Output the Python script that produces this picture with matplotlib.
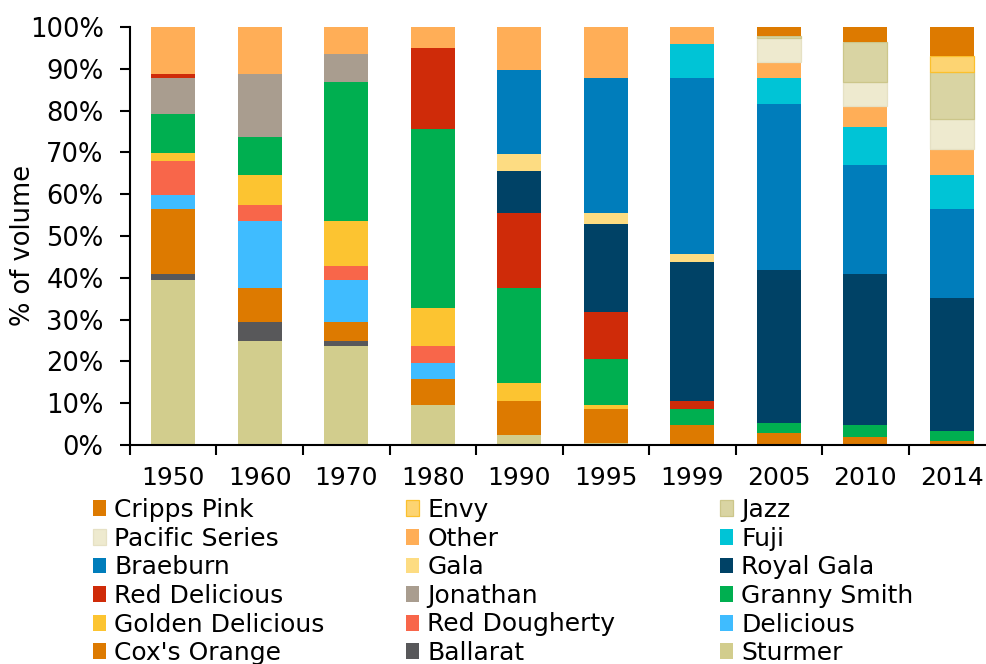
import matplotlib
matplotlib.use("Agg")
import matplotlib.pyplot as plt
from matplotlib.patches import Patch
import numpy as np

years = ["1950", "1960", "1970", "1980", "1990", "1995", "1999", "2005", "2010", "2014"]

# % of volume per variety, stacked bottom -> top
sturmer = [39.5, 24.8, 23.8, 9.6, 2.4, 0.5, 0, 0, 0, 0]
ballarat = [1.4, 4.7, 1.0, 0, 0, 0, 0, 0, 0, 0]
coxs_orange = [15.6, 8.1, 4.7, 6.2, 8.1, 8.1, 4.9, 2.9, 2.0, 1.0]
delicious = [3.3, 16.0, 9.9, 3.8, 0, 0, 0, 0, 0, 0]
red_dougherty = [8.1, 3.8, 3.4, 4.2, 0, 0, 0, 0, 0, 0]
golden_delicious = [1.9, 7.1, 10.8, 9.0, 4.3, 1.0, 0, 0, 0, 0]
granny_smith = [9.3, 9.1, 33.3, 42.7, 22.8, 10.9, 3.7, 2.4, 2.9, 2.4]
jonathan = [8.7, 15.2, 6.7, 0, 0, 0, 0, 0, 0, 0]
red_delicious = [1.0, 0, 0, 19.4, 18.0, 11.4, 1.9, 0, 0, 0]
royal_gala = [0, 0, 0, 0, 9.9, 20.9, 33.2, 36.5, 36.0, 31.8]
gala = [0, 0, 0, 0, 4.2, 2.8, 2.0, 0, 0, 0]
braeburn = [0, 0, 0, 0, 19.9, 32.2, 42.1, 39.8, 26.0, 21.3]
fuji = [0, 0, 0, 0, 0, 0, 8.1, 6.2, 9.1, 8.0]
other = [11.2, 11.2, 6.4, 5.1, 10.4, 12.2, 4.1, 3.8, 5.1, 6.2]
pacific_series = [0, 0, 0, 0, 0, 0, 0, 5.7, 5.8, 7.2]
jazz = [0, 0, 0, 0, 0, 0, 0, 0.5, 9.4, 11.4]
envy = [0, 0, 0, 0, 0, 0, 0, 0, 0, 3.7]
cripps_pink = [0, 0, 0, 0, 0, 0, 0, 2.2, 3.7, 7.0]

# (name, values, fill, edge)
series = [
    ("Sturmer", sturmer, "#D2CD8D", None),
    ("Ballarat", ballarat, "#58585A", None),
    ("Cox's Orange", coxs_orange, "#DD7A00", None),
    ("Delicious", delicious, "#3FBCFF", None),
    ("Red Dougherty", red_dougherty, "#F8664A", None),
    ("Golden Delicious", golden_delicious, "#FCC431", None),
    ("Granny Smith", granny_smith, "#00AF50", None),
    ("Jonathan", jonathan, "#A99D8F", None),
    ("Red Delicious", red_delicious, "#CF2B09", None),
    ("Royal Gala", royal_gala, "#004266", None),
    ("Gala", gala, "#FDDC82", None),
    ("Braeburn", braeburn, "#007DBB", None),
    ("Fuji", fuji, "#00C4D6", None),
    ("Other", other, "#FFAE57", None),
    ("Pacific Series", pacific_series, "#EEEACF", "#E6E1C4"),
    ("Jazz", jazz, "#D9D4A3", "#CCC68A"),
    ("Envy", envy, "#FDD472", "#FBC02D"),
    ("Cripps Pink", cripps_pink, "#DD7A00", None),
]

legend_order = [
    "Cripps Pink", "Envy", "Jazz",
    "Pacific Series", "Other", "Fuji",
    "Braeburn", "Gala", "Royal Gala",
    "Red Delicious", "Jonathan", "Granny Smith",
    "Golden Delicious", "Red Dougherty", "Delicious",
    "Cox's Orange", "Ballarat", "Sturmer",
]

plt.rcParams["font.family"] = "DejaVu Sans"
fs = 18

fig = plt.figure(figsize=(9.87, 6.64), dpi=100)
ax = fig.add_axes([130 / 987, 1 - 445 / 664, 865 / 987, 418 / 664])

x = np.arange(len(years))
bottom = np.zeros(len(years))
handles = {}
for name, vals, color, edge in series:
    vals = np.array(vals, dtype=float)
    lw = [0.9 if (edge and v > 0) else 0 for v in vals]
    ax.bar(x, vals, width=0.51, bottom=bottom, color=color,
           edgecolor=edge if edge else color, linewidth=lw)
    bottom += vals
    handles[name] = Patch(facecolor=color, edgecolor=edge if edge else color,
                          linewidth=0.9 if edge else 0)

ax.set_xlim(-0.5, len(years) - 0.5)
ax.set_ylim(0, 100)
ax.set_yticks(np.arange(0, 101, 10))
ax.set_yticklabels([f"{v}%" for v in range(0, 101, 10)], fontsize=18.5)
ax.set_xticks(x)
ax.set_xticklabels(years, fontsize=fs)
ax.set_xticks(np.arange(-0.5, len(years), 1), minor=True)
ax.tick_params(axis="x", which="major", length=0, pad=15)
ax.tick_params(axis="x", which="minor", length=7, width=1.5, direction="out")
ax.tick_params(axis="y", length=7, width=1.5, direction="out", pad=12)
for s in ["top", "right"]:
    ax.spines[s].set_visible(False)
for s in ["left", "bottom"]:
    ax.spines[s].set_linewidth(1.5)
fig.text(23 / 987, 1 - 245 / 664, "% of volume", fontsize=18.5,
         rotation=90, ha="center", va="center")

col_x = [93, 406, 720]
for c in range(3):
    names = legend_order[c::3]
    fig.legend([handles[n] for n in names], names, loc="upper left",
               bbox_to_anchor=(col_x[c] / 987, 1 - 498 / 664),
               bbox_transform=fig.transFigure, frameon=False, fontsize=fs,
               borderpad=0, borderaxespad=0, handlelength=0.52,
               handleheight=0.6, handletextpad=0.33, labelspacing=0.185)

fig.savefig("out.png", dpi=100)
